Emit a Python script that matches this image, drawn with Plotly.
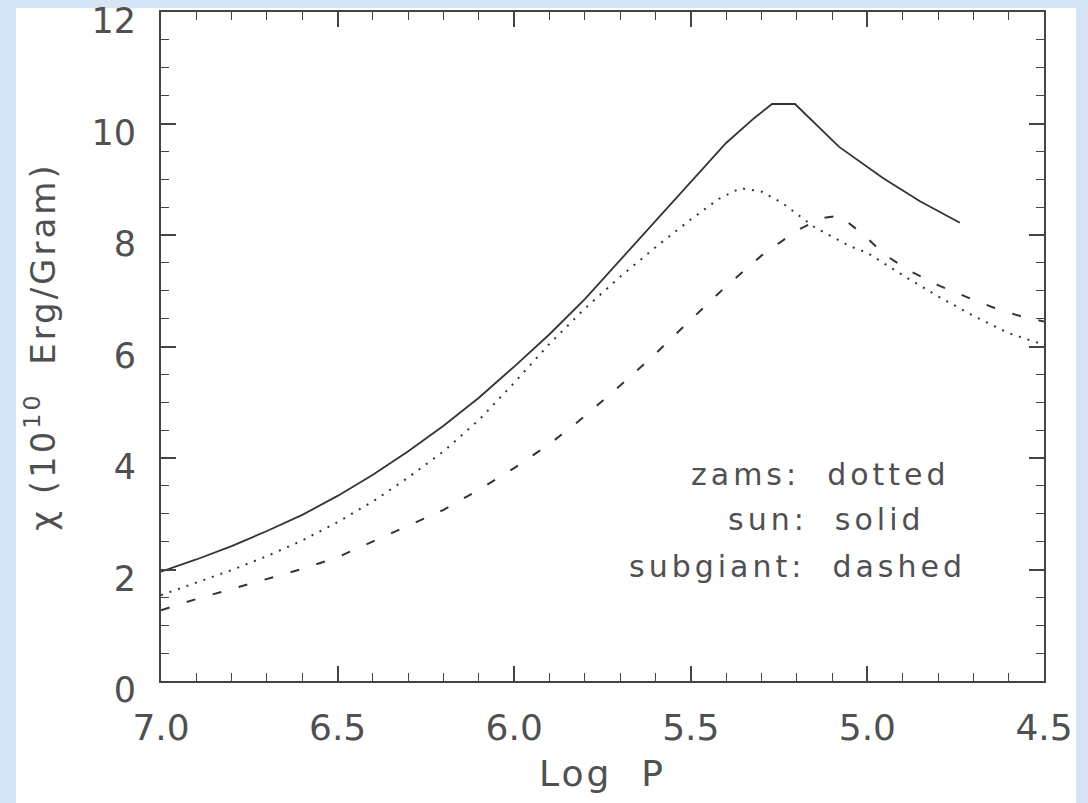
import plotly.graph_objects as go

# Sun (solid)
sun_logp = [7.0, 6.9, 6.8, 6.7, 6.6, 6.5, 6.4, 6.3, 6.2, 6.1, 6.0, 5.9, 5.8, 5.7, 5.6, 5.5, 5.4, 5.32, 5.27, 5.205, 5.08, 4.955, 4.85, 4.738]
sun_chi = [1.96, 2.18, 2.42, 2.69, 2.98, 3.32, 3.70, 4.12, 4.58, 5.08, 5.64, 6.22, 6.85, 7.55, 8.25, 8.95, 9.65, 10.1, 10.35, 10.35, 9.58, 9.02, 8.6, 8.22]

# ZAMS (dotted)
zams_logp = [7.0, 6.9, 6.8, 6.7, 6.6, 6.5, 6.4, 6.3, 6.2, 6.1, 6.0, 5.9, 5.8, 5.7, 5.6, 5.5, 5.42, 5.36, 5.3, 5.24, 5.15, 5.05, 5.0, 4.9, 4.8, 4.7, 4.6, 4.5]
zams_chi = [1.54, 1.76, 1.99, 2.24, 2.52, 2.85, 3.22, 3.65, 4.12, 4.68, 5.35, 6.05, 6.68, 7.25, 7.78, 8.28, 8.65, 8.84, 8.78, 8.57, 8.14, 7.80, 7.68, 7.28, 6.90, 6.55, 6.24, 6.03]

# Subgiant (dashed)
sub_logp = [7.0, 6.9, 6.8, 6.7, 6.6, 6.5, 6.4, 6.3, 6.2, 6.1, 6.0, 5.9, 5.8, 5.7, 5.6, 5.5, 5.4, 5.3, 5.2, 5.13, 5.08, 5.01, 4.95, 4.875, 4.8, 4.72, 4.64, 4.56, 4.5]
sub_chi = [1.27, 1.47, 1.65, 1.83, 2.01, 2.22, 2.50, 2.78, 3.07, 3.43, 3.82, 4.25, 4.75, 5.30, 5.87, 6.48, 7.08, 7.63, 8.08, 8.30, 8.35, 8.00, 7.64, 7.34, 7.10, 6.89, 6.69, 6.53, 6.45]

x_ticks = [7.0, 6.5, 6.0, 5.5, 5.0, 4.5]
x_tick_text = ["7.0", "6.5", "6.0", "5.5", "5.0", "4.5"]
y_ticks = [0, 2, 4, 6, 8, 10, 12]
y_tick_text = ["0", "2", "4", "6", "8", "10", "12"]

labels = ["zams:\u00a0 dotted", "sun:\u00a0 solid", "subgiant:\u00a0 dashed"]
label_x = [5.134, 5.117, 5.199]
label_y = [3.71, 2.89, 2.06]

LINE = "#333333"
TXT = "#505050"
AX = "#444444"
FONT = "DejaVu Sans, Liberation Sans, sans-serif"


def spaced(s, px):
    return '<span style="letter-spacing:%dpx">%s</span>' % (px, s)


fig = go.Figure()
fig.add_trace(go.Scatter(x=sun_logp, y=sun_chi, mode="lines", name="sun",
                         line=dict(color=LINE, width=1.8, dash="solid")))
fig.add_trace(go.Scatter(x=zams_logp, y=zams_chi, mode="lines", name="zams",
                         line=dict(color=LINE, width=2, dash="2px,7px")))
fig.add_trace(go.Scatter(x=sub_logp, y=sub_chi, mode="lines", name="subgiant",
                         line=dict(color=LINE, width=2, dash="9px,18px")))

for t, lx, ly in zip(labels, label_x, label_y):
    fig.add_annotation(x=lx, y=ly, text=spaced(t, 4), showarrow=False, xanchor="center", yanchor="middle",
                       font=dict(family=FONT, size=30, color=TXT))

# white panel behind the plot
W, H = 1088, 803
ml, mr, mt, mb = 161, 44, 12, 122
pw, ph = W - ml - mr, H - mt - mb
fig.add_shape(type="rect", xref="paper", yref="paper", layer="below",
              x0=(16 - ml) / pw, x1=(1076 - ml) / pw,
              y0=(H - mb - 803) / ph, y1=(H - mb - 8) / ph,
              fillcolor="white", line=dict(width=0))

axis_common = dict(showgrid=False, zeroline=False, showline=True, linecolor=AX, linewidth=2,
                   mirror="allticks", ticks="inside", ticklen=15, tickwidth=1.5, tickcolor=AX,
                   ticklabeloverflow="allow")

fig.update_xaxes(range=[7.0, 4.5], tickvals=x_ticks, ticktext=x_tick_text,
                 tickfont=dict(family=FONT, size=36, color=TXT),
                 minor=dict(dtick=0.1, ticks="inside", ticklen=8, tickwidth=1.3, tickcolor=AX, showgrid=False),
                 ticklabelstandoff=14,
                 title=dict(text=spaced("Log\u00a0 P", 3), font=dict(family=FONT, size=36, color=TXT), standoff=14),
                 **axis_common)
fig.update_yaxes(range=[0, 12], tickvals=y_ticks, ticktext=y_tick_text,
                 tickfont=dict(family=FONT, size=35, color=TXT),
                 ticklabelshift=9,
                 minor=dict(dtick=0.5, ticks="inside", ticklen=8, tickwidth=1.3, tickcolor=AX, showgrid=False),
                 ticklabelstandoff=16,
                 title=dict(text=spaced("χ (10<sup>10</sup>\u00a0 Erg/Gram)", 3),
                            font=dict(family=FONT, size=34, color=TXT), standoff=26),
                 **axis_common)

fig.update_layout(width=W, height=H, margin=dict(l=ml, r=mr, t=mt, b=mb, autoexpand=False),
                  paper_bgcolor="#d5e5f5", plot_bgcolor="white", showlegend=False)

fig.write_html("out.html")
